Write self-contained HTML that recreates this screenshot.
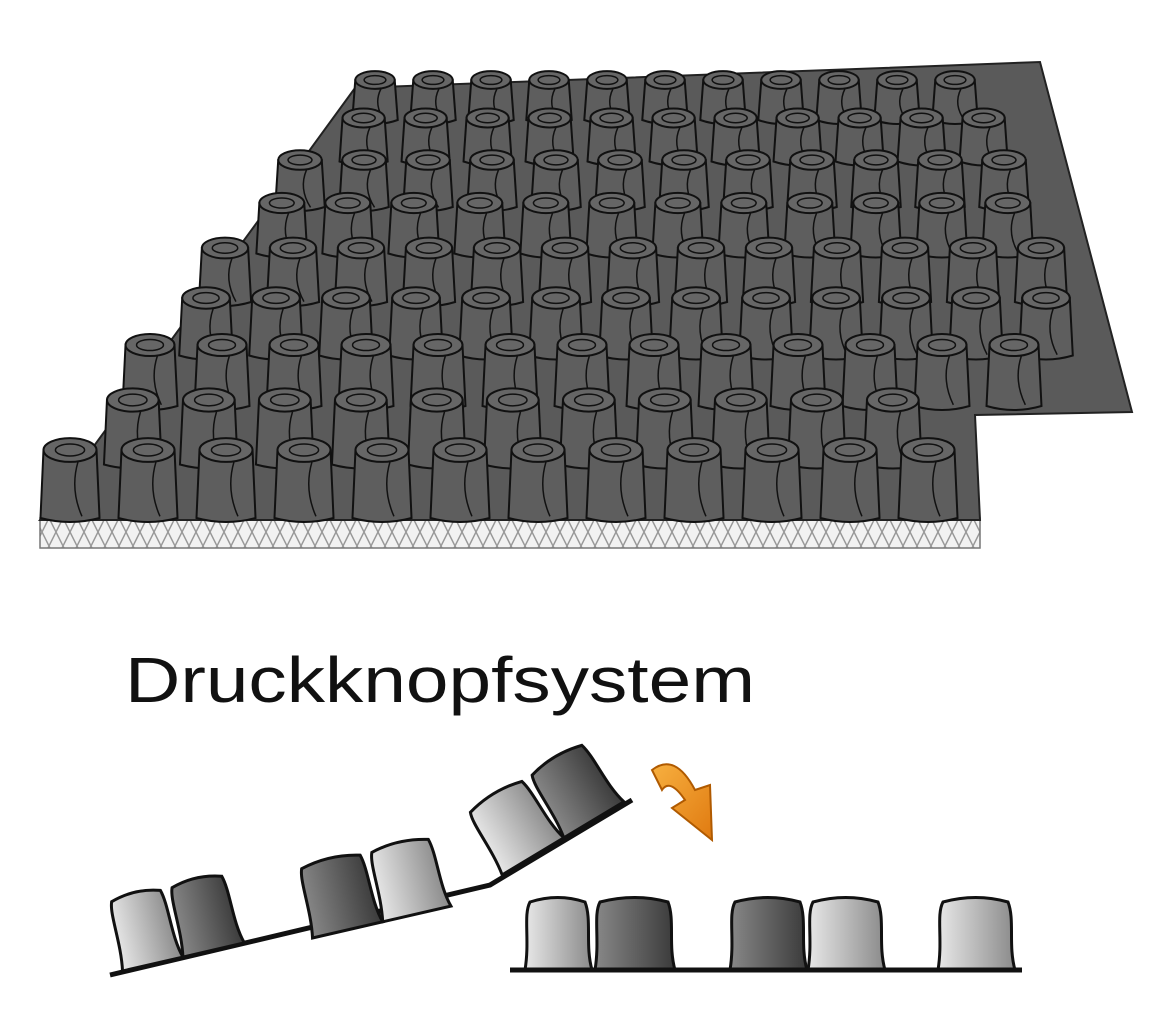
<!DOCTYPE html>
<html><head><meta charset="utf-8">
<style>
html,body{margin:0;padding:0;background:#fff;}
svg{display:block;}
</style></head>
<body>
<svg id="s" width="1170" height="1014" viewBox="0 0 1170 1014" xmlns="http://www.w3.org/2000/svg">
<defs>
<pattern id="hatch" width="14" height="28" patternUnits="userSpaceOnUse">
<rect width="14" height="28" fill="#f2f2f2"/>
<path d="M0 0 L14 28 M14 0 L0 28" stroke="#999" stroke-width="1.5"/>
</pattern>
<linearGradient id="kl" x1="0" x2="1"><stop offset="0" stop-color="#e8e8e8"/><stop offset="1" stop-color="#8a8a8a"/></linearGradient>
<linearGradient id="kd" x1="0" x2="1"><stop offset="0" stop-color="#888"/><stop offset="1" stop-color="#3a3a3a"/></linearGradient>
<linearGradient id="or" x1="0" x2="1" y1="0" y2="1"><stop offset="0" stop-color="#f7b040"/><stop offset="1" stop-color="#e07a10"/></linearGradient>
</defs>
<rect x="40" y="518" width="940" height="30" fill="url(#hatch)" stroke="#777" stroke-width="1.5"/>
<polygon points="355,88 1040,62 1132,412 975,415 980,520 40,520" fill="#5a5a5a" stroke="#222" stroke-width="2"/>
<g id="knobs"></g>
<text x="125" y="702" font-family="Liberation Sans, sans-serif" font-size="64" fill="#111" textLength="630" lengthAdjust="spacingAndGlyphs">Druckknopfsystem</text>
<polyline points="110,975 490,885 632,800" fill="none" stroke="#111" stroke-width="5"/>
<g stroke="#111" stroke-width="3">
<g transform="translate(105,895) rotate(-13)"><path d="M0 78 C5 50 0 20 5 8 Q30 0 55 8 C60 25 55 55 62 78 Z" fill="url(#kl)"/><path d="M62 78 C67 50 62 20 67 8 Q92 0 118 8 C123 25 118 55 125 78 Z" fill="url(#kd)"/></g>
<g transform="translate(295,862) rotate(-13)"><path d="M0 78 C5 50 0 20 5 8 Q35 0 65 8 C70 25 65 55 72 78 Z" fill="url(#kd)"/><path d="M72 78 C77 50 72 20 77 8 Q105 0 135 8 C140 25 135 55 142 78 Z" fill="url(#kl)"/></g>
<g transform="translate(462,808) rotate(-31)"><path d="M0 78 C5 50 0 20 5 8 Q35 0 65 8 C70 25 65 55 72 78 Z" fill="url(#kl)"/><path d="M72 78 C77 50 72 20 77 8 Q105 0 135 8 C140 25 135 55 142 78 Z" fill="url(#kd)"/></g>
<path d="M525 970 C530 940 523 915 530 902 Q558 893 585 902 C592 920 585 945 592 970 Z" fill="url(#kl)"/>
<path d="M595 970 C600 940 593 915 600 902 Q635 893 668 902 C675 920 668 945 675 970 Z" fill="url(#kd)"/>
<path d="M730 970 C735 940 728 915 735 902 Q768 893 800 902 C807 920 800 945 807 970 Z" fill="url(#kd)"/>
<path d="M808 970 C813 940 806 915 813 902 Q846 893 878 902 C885 920 878 945 885 970 Z" fill="url(#kl)"/>
<path d="M938 970 C943 940 936 915 943 902 Q976 893 1008 902 C1015 920 1008 945 1015 970 Z" fill="url(#kl)"/>
</g>
<line x1="510" y1="970" x2="1022" y2="970" stroke="#111" stroke-width="5"/>
<path d="M652 770 Q675 752 695 790 L710 785 L712 840 L672 808 L685 800 Q670 778 662 790 Z" fill="url(#or)" stroke="#b05a00" stroke-width="2"/>
</svg>
<script>
(function(){
var g=document.getElementById('knobs'),h='';
var rows=[[80,375,58],[118,345,62],[160,300,64],[203,262,66],[248,225,68],[298,185,70],[345,150,72],[400,110,76],[450,70,78]];
rows.forEach(function(r,i){
 var y=r[0],x=r[1],sp=r[2],w=sp*0.68,hh=40+i*3.5;
 var re=(y+hh<410)?1040+(y-62)*92/350-40:930;
 for(var cx=x+(i%2?sp*0.3:0);cx<re;cx+=sp){
  var rx=w/2,ry=rx*0.45;
  h+='<path d="M'+(cx-rx)+' '+y+' L'+(cx-rx-3)+' '+(y+hh)+' Q'+cx+' '+(y+hh+8)+' '+(cx+rx+3)+' '+(y+hh)+' L'+(cx+rx)+' '+y+' Z" fill="#5e5e5e" stroke="#111" stroke-width="2"/>';
  h+='<ellipse cx="'+cx+'" cy="'+y+'" rx="'+rx+'" ry="'+ry+'" fill="#666" stroke="#111" stroke-width="2"/>';
  h+='<ellipse cx="'+cx+'" cy="'+y+'" rx="'+rx*0.55+'" ry="'+ry*0.5+'" fill="none" stroke="#111" stroke-width="1.5"/>';
  h+='<path d="M'+(cx+rx*0.3)+' '+(y+ry)+' q-8 '+hh*0.4+' 4 '+hh*0.8+'" fill="none" stroke="#111" stroke-width="1.5"/>';
 }
});
g.innerHTML=h;
})();
</script>
</body></html>
